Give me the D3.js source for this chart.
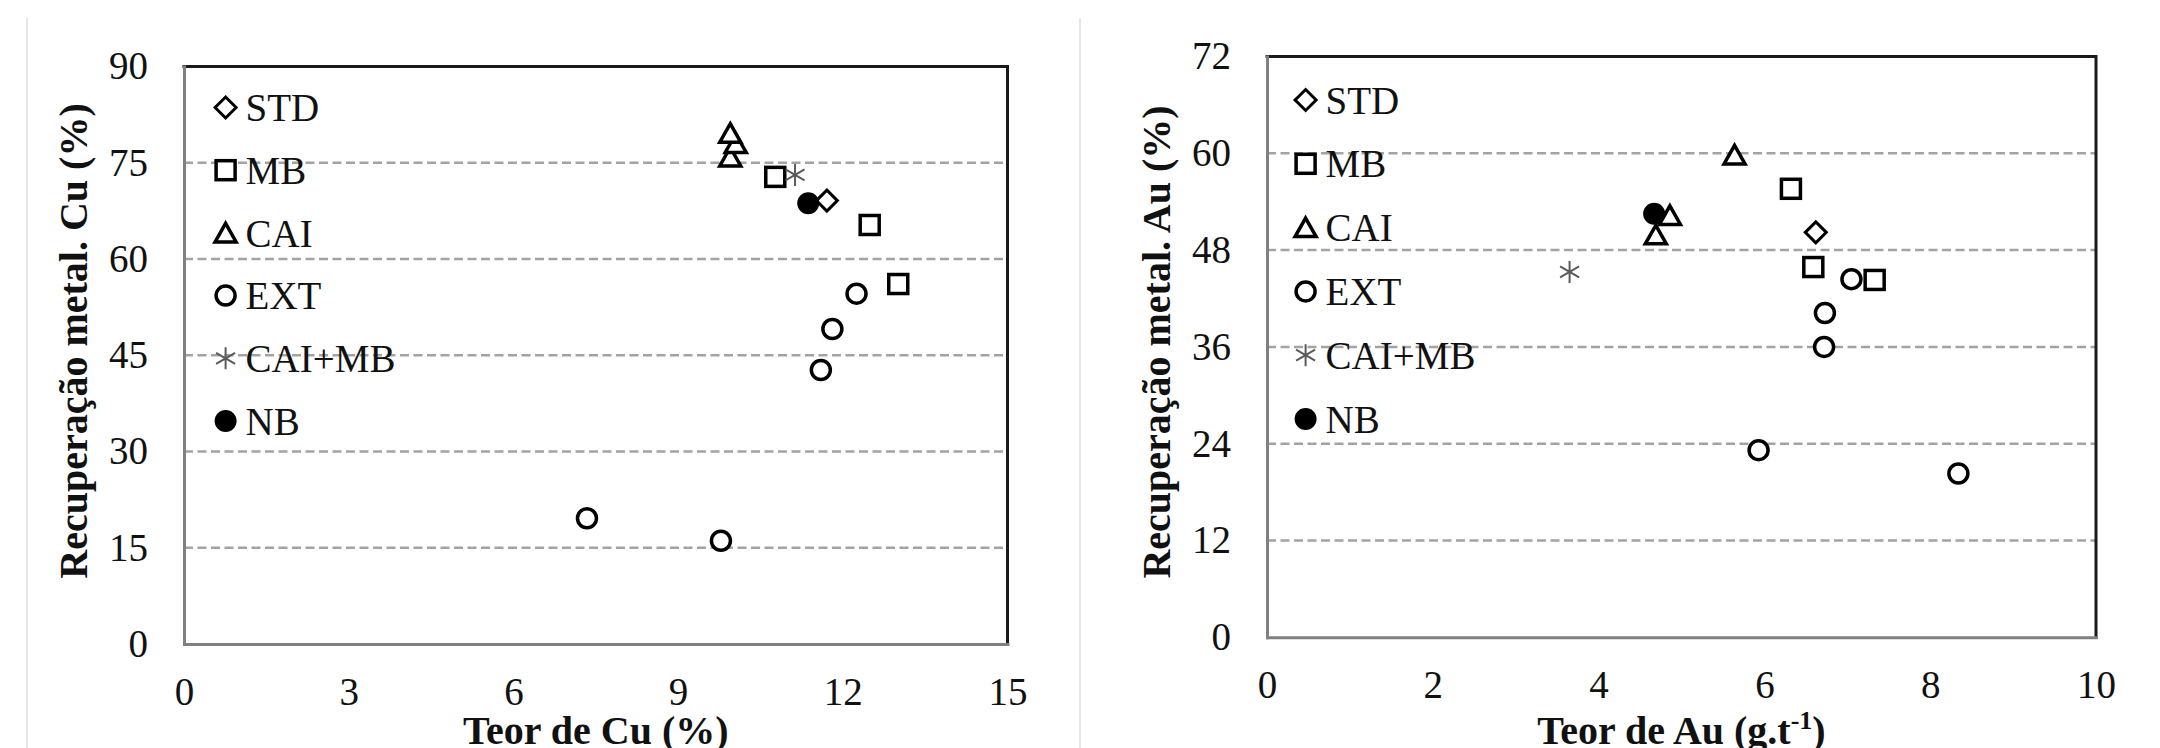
<!DOCTYPE html>
<html>
<head>
<meta charset="utf-8">
<script src="https://cdn.jsdelivr.net/npm/d3@7"></script>
<style>
  html, body { margin: 0; padding: 0; background: #fff; }
  svg { display: block; }
</style>
</head>
<body>
<div id="chart"></div>
<script>
const width = 2160, height = 748;
const serif = "'Liberation Serif', 'Times New Roman', serif";

const seriesNames = ["STD", "MB", "CAI", "EXT", "CAI+MB", "NB"];

// Cu panel: [teor Cu %, recuperação %]
const cuXTicks = [0, 3, 6, 9, 12, 15];
const cuYTicks = [0, 15, 30, 45, 60, 75, 90];
const cuSTD = [[11.71, 69.1]];
const cuMB = [[10.77, 72.8], [12.49, 65.3], [13.01, 56.1]];
const cuCAI = [[9.95, 75.9], [10.05, 78.0], [9.95, 79.6]];
const cuEXT = [[12.25, 54.6], [11.81, 49.1], [11.6, 42.7], [7.34, 19.6], [9.78, 16.1]];
const cuCAIMB = [[11.13, 73.1]];
const cuNB = [[11.37, 68.7]];

// Au panel: [teor Au g/t, recuperação %]
const auXTicks = [0, 2, 4, 6, 8, 10];
const auYTicks = [0, 12, 24, 36, 48, 60, 72];
const auSTD = [[6.62, 50.2]];
const auMB = [[6.32, 55.6], [6.59, 45.9], [7.33, 44.3]];
const auCAI = [[5.64, 59.8], [4.86, 52.3], [4.69, 49.9]];
const auEXT = [[7.05, 44.4], [6.73, 40.2], [6.72, 36.0], [5.93, 23.2], [8.34, 20.3]];
const auCAIMB = [[3.65, 45.3]];
const auNB = [[4.67, 52.5]];

const svg = d3.select("#chart").append("svg")
  .attr("width", width)
  .attr("height", height)
  .style("background", "#fff");

// faint chart-area edges
[27, 1080].forEach(xx => {
  svg.append("line")
    .attr("x1", xx).attr("x2", xx)
    .attr("y1", 18).attr("y2", height)
    .attr("stroke", "#e6e6e6")
    .attr("stroke-width", 2);
});

function drawMarker(g, name) {
  if (name === "STD") {
    g.append("path").attr("d", "M0,-10.5L10.5,0L0,10.5L-10.5,0Z")
      .attr("fill", "#fff").attr("stroke", "#000").attr("stroke-width", 3);
  } else if (name === "MB") {
    g.append("rect").attr("x", -9.5).attr("y", -9.5).attr("width", 19).attr("height", 19)
      .attr("fill", "#fff").attr("stroke", "#000").attr("stroke-width", 3.5);
  } else if (name === "CAI") {
    g.append("path").attr("d", "M0,-9.5L10.5,9L-10.5,9Z")
      .attr("fill", "#fff").attr("stroke", "#000").attr("stroke-width", 3.5)
      .attr("stroke-linejoin", "miter");
  } else if (name === "EXT") {
    g.append("circle").attr("r", 9.5)
      .attr("fill", "#fff").attr("stroke", "#000").attr("stroke-width", 3.5);
  } else if (name === "CAI+MB") {
    g.append("path").attr("d", "M0,-11V11M-9.5,-5.5L9.5,5.5M-9.5,5.5L9.5,-5.5")
      .attr("fill", "none").attr("stroke", "#5a5a5a").attr("stroke-width", 2);
  } else if (name === "NB") {
    g.append("circle").attr("r", 11).attr("fill", "#000");
  }
}

function drawPanel(p) {
  const x = d3.scaleLinear().domain([0, p.xTicks[p.xTicks.length - 1]]).range([p.left, p.right]);
  const y = d3.scaleLinear().domain([0, p.yTicks[p.yTicks.length - 1]]).range([p.bottom, p.top]);
  const yMax = p.yTicks[p.yTicks.length - 1];

  // GRIDLINES
  svg.append("g").selectAll("line")
    .data(p.yTicks.filter(v => v > 0 && v < yMax))
    .join("line")
    .attr("x1", p.left).attr("x2", p.right)
    .attr("y1", d => y(d)).attr("y2", d => y(d))
    .attr("stroke", "#a3a3a3")
    .attr("stroke-width", 2.5)
    .attr("stroke-dasharray", "9,4.5");

  // top / right frame
  svg.append("path")
    .attr("d", `M${p.left},${p.top}H${p.right}V${p.bottom}`)
    .attr("fill", "none")
    .attr("stroke", "#1a1a1a")
    .attr("stroke-width", 3)
    .attr("stroke-linecap", "square");

  // AXIS
  const yAxis = svg.append("g")
    .attr("transform", `translate(${p.left},0)`)
    .call(d3.axisLeft(y).tickValues(p.yTicks).tickSize(0).tickPadding(36));
  const xAxis = svg.append("g")
    .attr("transform", `translate(0,${p.bottom})`)
    .call(d3.axisBottom(x).tickValues(p.xTicks).tickSize(0).tickPadding(33.5));

  [yAxis, xAxis].forEach(a => {
    a.attr("font-family", serif).attr("font-size", 39);
    a.selectAll("text").attr("fill", "#111");
    a.select(".domain")
      .attr("stroke", "#808080")
      .attr("stroke-width", 3)
      .attr("stroke-linecap", "square");
  });

  // LEGEND
  seriesNames.forEach((name, i) => {
    const g = svg.append("g")
      .attr("transform", `translate(${p.left + p.legX},${p.top + p.legTop + i * p.legStep})`);
    drawMarker(g, name);
    g.append("text")
      .attr("x", 20)
      .attr("dy", "0.35em")
      .attr("font-family", serif)
      .attr("font-size", 39)
      .attr("fill", "#111")
      .text(name);
  });

  // POINTS
  p.series.forEach((pts, i) => {
    svg.append("g").selectAll("g")
      .data(pts)
      .join("g")
      .attr("transform", d => `translate(${x(d[0])},${y(d[1])})`)
      .each(function () { drawMarker(d3.select(this), seriesNames[i]); });
  });

  // TITLES
  svg.append("text")
    .attr("transform", `translate(${p.left - 97},${p.yTitleY}) rotate(-90)`)
    .attr("text-anchor", "middle")
    .attr("font-family", serif)
    .attr("font-weight", "bold")
    .attr("font-size", 40)
    .attr("fill", "#111")
    .text(p.yTitle);

  const xt = svg.append("text")
    .attr("x", (p.left + p.right) / 2)
    .attr("y", 744)
    .attr("text-anchor", "middle")
    .attr("font-family", serif)
    .attr("font-weight", "bold")
    .attr("font-size", 40)
    .attr("fill", "#111");
  p.xTitle(xt);
}

drawPanel({
  left: 184, right: 1007.5, top: 66.5, bottom: 644,
  xTicks: cuXTicks, yTicks: cuYTicks,
  series: [cuSTD, cuMB, cuCAI, cuEXT, cuCAIMB, cuNB],
  legX: 41.6, legTop: 41, legStep: 62.7,
  yTitle: "Recuperação metal. Cu (%)", yTitleY: 341,
  xTitle: t => t.text("Teor de Cu (%)")
});

drawPanel({
  left: 1267, right: 2096, top: 56.5, bottom: 637.3,
  xTicks: auXTicks, yTicks: auYTicks,
  series: [auSTD, auMB, auCAI, auEXT, auCAIMB, auNB],
  legX: 38.6, legTop: 43.5, legStep: 63.8,
  yTitle: "Recuperação metal. Au (%)", yTitleY: 342,
  xTitle: t => {
    t.append("tspan").text("Teor de Au (g.t");
    t.append("tspan").attr("font-size", 26).attr("dy", -15).text("-1");
    t.append("tspan").attr("dy", 15).text(")");
  }
});
</script>
</body>
</html>
